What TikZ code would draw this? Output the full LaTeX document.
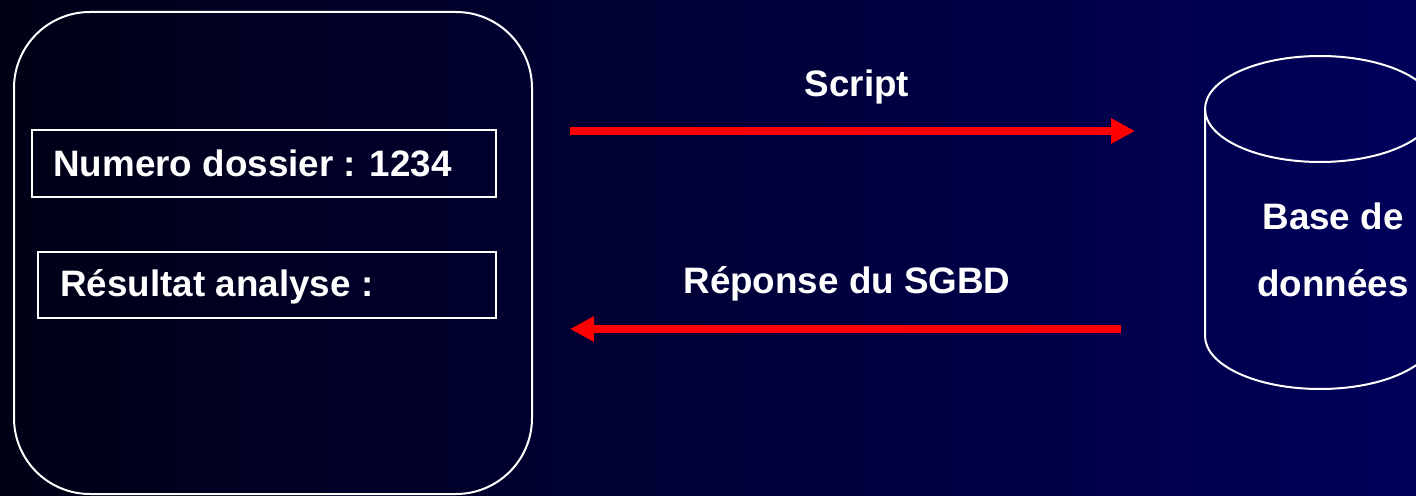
\documentclass[tikz,border=0pt]{standalone}
\usepackage{fontspec}
\setmainfont{Liberation Sans}
\usetikzlibrary{arrows.meta,shapes.geometric}
\definecolor{bgleft}{RGB}{0,0,22}
\definecolor{bgright}{RGB}{0,0,90}
\tikzset{
  frame/.style={draw=white, line width=1pt},
  lbl/.style={text=white, inner sep=0pt, font=\fontsize{18.4}{22}\selectfont\bfseries},
  flow/.style={draw=red, line width=4pt, -{Triangle[length=12pt,width=12pt]}},
}
\begin{document}
\begin{tikzpicture}[x=0.5pt,y=-0.5pt]
  % background
  \useasboundingbox (0,0) rectangle (1416,496);
  \shade[left color=bgleft, right color=bgright] (0,0) rectangle (1416,496);
  \clip (0,0) rectangle (1416,496);

  % client window
  \draw[frame, rounded corners=38pt] (14,12) rectangle (532,494);
  \draw[frame] (32,130) rectangle (496,197);
  \draw[frame] (38,252) rectangle (496,318);
  \node[lbl, anchor=base west] (num) at (53,177) {Numero dossier : 1234};
  \node[lbl, anchor=base west] (res) at (60,297) {Résultat analyse :};

  % database cylinder
  \draw[frame] (1205,109) -- (1205,336)
    arc[start angle=180, end angle=0, x radius=115, y radius=53]
    -- (1435,109);
  \draw[frame] (1320,109) ellipse[x radius=115, y radius=53];
  \node[lbl, anchor=base] (db1) at (1333,230) {Base de};
  \node[lbl, anchor=base] (db2) at (1333,297) {données};

  % exchanges
  \coordinate (s1) at (570,131);
  \coordinate (s2) at (1135,131);
  \coordinate (r1) at (1121,329);
  \coordinate (r2) at (570,329);
  \draw[flow] (s1) -- (s2);
  \draw[flow] (r1) -- (r2);
  \node[lbl, anchor=base] (script) at (857,97) {Script};
  \node[lbl, anchor=base] (rep) at (847,293) {Réponse du SGBD};
\end{tikzpicture}
\end{document}
